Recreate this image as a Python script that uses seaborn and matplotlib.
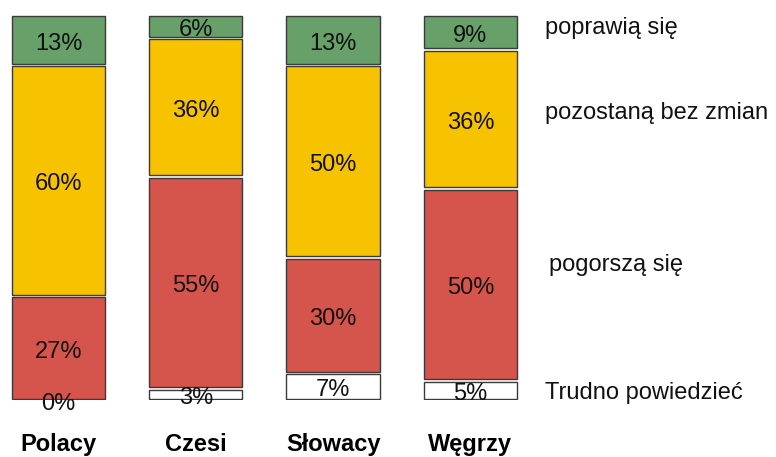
import numpy as np
import pandas as pd
import matplotlib
matplotlib.use("Agg")
import matplotlib.pyplot as plt
import seaborn as sns

sns.set_theme(style="white")
plt.rcParams['font.family'] = ['Liberation Sans', 'DejaVu Sans']

kraje = ["Polacy", "Czesi", "Słowacy", "Węgrzy"]
trudno = [0, 3, 7, 5]
pogorsza = [27, 55, 30, 50]
bez_zmian = [60, 36, 50, 36]
poprawia = [13, 6, 13, 9]

warstwy = ["Trudno powiedzieć", "pogorszą się", "pozostaną bez zmian", "poprawią się"]
wartosci = [trudno, pogorsza, bez_zmian, poprawia]
kolory = ["#ffffff", "#d5544b", "#f7c300", "#68a06a"]
# where the side labels sit (data y)
etykiety_y = [1.9, 35.0, 74.5, 96.6]
etykiety_dx = [3.54, 3.57, 3.54, 3.54]

fig = plt.figure(figsize=(7.76, 4.57), dpi=100)
ax = fig.add_axes([0, 57 / 457, 1, 1 - 15 / 457 - 57 / 457])

gap = 0.65
spod = np.zeros(len(kraje))
for nazwa, vals, kol in zip(warstwy, wartosci, kolory):
    vals = np.array(vals, dtype=float)
    h = np.where(vals > 0, vals - gap, 0)
    df = pd.DataFrame({"kraj": kraje, "v": h})
    sns.barplot(data=df, x="kraj", y="v", color=kol, saturation=1, width=0.68,
                bottom=spod + gap / 2, edgecolor="#3a3a3a", linewidth=1.0,
                errorbar=None, ax=ax)
    for i, v in enumerate(vals):
        ax.text(i, spod[i] + v / 2 - 1.0, f"{int(v)}%", ha="center", va="center",
                fontsize=17, color="#111111", clip_on=False)
    spod = spod + vals

for p in ax.patches:
    if p.get_height() <= 0:
        p.set_linewidth(0)

for nazwa, y, dx in zip(warstwy, etykiety_y, etykiety_dx):
    ax.text(dx, y, nazwa, ha="left", va="center", fontsize=17, color="#111111", clip_on=False)

ax.set_xlim(-0.426, 5.226)
ax.set_ylim(0, 100)
ax.set_xlabel("")
ax.set_ylabel("")
ax.set_yticks([])
ax.tick_params(axis="x", length=0, pad=24, labelsize=17, labelcolor="black")
for lab in ax.get_xticklabels():
    lab.set_fontweight("bold")
for s in ax.spines.values():
    s.set_visible(False)

fig.savefig("out.png", dpi=100)
